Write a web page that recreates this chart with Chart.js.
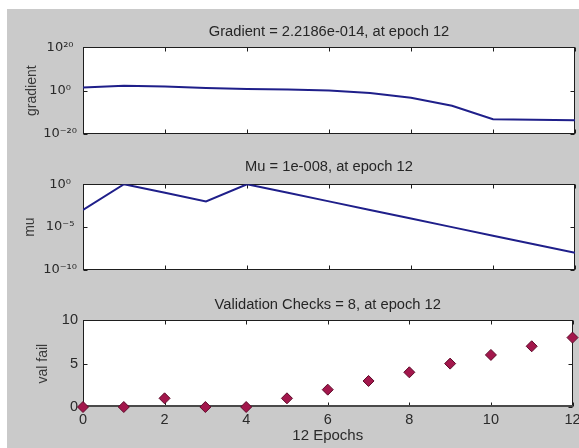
<!DOCTYPE html>
<html><head><meta charset="utf-8">
<script src="https://cdn.jsdelivr.net/npm/chart.js@4/dist/chart.umd.min.js"></script>
<style>
html,body{margin:0;padding:0;background:#fff;width:579px;height:448px;overflow:hidden;}
#bg{position:absolute;left:7px;top:9px;width:572px;height:439px;background:#cacaca;}
canvas{position:absolute;left:0;}
</style></head><body>
<div id="bg"></div>
<canvas id="c1" width="579" height="130" style="top:9px;width:579px;height:130px"></canvas>
<canvas id="c2" width="579" height="130" style="top:145px;width:579px;height:130px"></canvas>
<canvas id="c3" width="579" height="163" style="top:285px;width:579px;height:163px"></canvas>
<script>
// ---- data ----
const epochs = [0, 1, 2, 3, 4, 5, 6, 7, 8, 9, 10, 11, 12];
const gradient = [25, 160, 80, 16, 6, 3, 1, 0.08, 5e-4, 1e-7, 6e-14, 4e-14, 2.2186e-14];
const mu = [1e-3, 1, 0.1, 0.01, 1, 0.1, 0.01, 1e-3, 1e-4, 1e-5, 1e-6, 1e-7, 1e-8];
const valFail = [0, 0, 1, 0, 0, 1, 2, 3, 4, 5, 6, 7, 8];
const epochTicks = [0, 2, 4, 6, 8, 10, 12];
const gradTicks = [1e-20, 1, 1e20];
const gradTickLabels = ['10\u207B\u00B2\u2070', '10\u2070', '10\u00B2\u2070'];
const muTicks = [1e-10, 1e-5, 1];
const muTickLabels = ['10\u207B\u00B9\u2070', '10\u207B\u2075', '10\u2070'];
const valTicks = [0, 5, 10];
const valTickLabels = ['0', '5', '10'];
const plotTitles = ['Gradient = 2.2186e-014, at epoch 12', 'Mu = 1e-008, at epoch 12', 'Validation Checks = 8, at epoch 12'];
const yTitles = ['gradient', 'mu', 'val fail'];
const xTitle = '12 Epochs';

const FONT = "'Liberation Sans', Arial, Helvetica, sans-serif";
Chart.defaults.font.family = FONT;
Chart.defaults.font.size = 14;
Chart.defaults.color = '#2a2a2a';

const matlabAxes = {
  id: 'matlabAxes',
  beforeDraw(chart) {
    const {ctx, chartArea: a} = chart;
    ctx.save();
    ctx.fillStyle = '#ffffff';
    ctx.fillRect(a.left, a.top, a.right - a.left, a.bottom - a.top);
    ctx.restore();
  },
  beforeDatasetsDraw(chart, args, opts) {
    const {ctx, chartArea: a, scales} = chart;
    const x = scales.x, y = scales.y;
    const L = 4;
    const l = Math.round(a.left) + 0.5, r = Math.round(a.right) - 0.5;
    const t = Math.round(a.top) + 0.5, b = Math.round(a.bottom) - 0.5;
    ctx.save();
    ctx.strokeStyle = '#1e1e1e';
    ctx.lineWidth = 1;
    ctx.strokeRect(l, t, r - l, b - t);
    ctx.beginPath();
    x.ticks.forEach(tk => {
      const px = Math.round(x.getPixelForValue(tk.value)) + 0.5;
      ctx.moveTo(px, t); ctx.lineTo(px, t + L);
      ctx.moveTo(px, b); ctx.lineTo(px, b - L);
    });
    y.ticks.forEach(tk => {
      const py = Math.round(y.getPixelForValue(tk.value)) + 0.5;
      ctx.moveTo(l, py); ctx.lineTo(l + L, py);
      ctx.moveTo(r, py); ctx.lineTo(r - L, py);
    });
    ctx.stroke();
    if (opts && opts.thickBottom) {
      ctx.strokeStyle = '#4a4a4a';
      ctx.lineWidth = 2;
      ctx.beginPath();
      ctx.moveTo(l - 0.5, Math.round(a.bottom) - 1);
      ctx.lineTo(r + 0.5, Math.round(a.bottom) - 1);
      ctx.stroke();
    }
    ctx.restore();
  }
};

function makeChart(id, cfg) {
  const pts = epochs.map((e, i) => ({x: e, y: cfg.values[i]}));
  const ds = cfg.scatter ? {
    data: pts, showLine: false, pointStyle: 'rectRot', pointRadius: 5.5,
    pointBackgroundColor: '#a3174c', pointBorderColor: '#5e0b2a', pointBorderWidth: 1, clip: false
  } : {
    data: pts, borderColor: '#1f1f8a', borderWidth: 2, pointRadius: 0, tension: 0, fill: false
  };
  return new Chart(document.getElementById(id), {
    type: 'line',
    data: {datasets: [ds]},
    plugins: [matlabAxes],
    options: {
      responsive: false, maintainAspectRatio: false, animation: false, devicePixelRatio: 1,
      layout: {padding: {left: 0, right: 4, top: 0, bottom: cfg.padBottom}},
      plugins: {
        legend: {display: false}, tooltip: {enabled: false},
        title: {display: true, text: cfg.title, fullSize: false, color: '#262626',
          font: {size: 14.7, weight: 'normal', lineHeight: 1.2},
          padding: {top: cfg.titleTop, bottom: cfg.titleBottom}},
        matlabAxes: {thickBottom: !!cfg.scatter}
      },
      scales: {
        x: {
          type: 'linear', min: 0, max: 12,
          grid: {display: false, drawTicks: false}, border: {display: false},
          ticks: {display: !!cfg.xLabels, padding: 4, maxRotation: 0, autoSkip: false,
            font: {size: 14.5}, callback: v => String(v)},
          title: {display: !!cfg.xLabels, text: xTitle, font: {size: 15}, padding: {top: 0, bottom: 3.2}},
          afterBuildTicks: s => { s.ticks = epochTicks.map(v => ({value: v})); },
          afterFit: s => { s.height = cfg.xHeight; s.paddingLeft = 0; s.paddingRight = 0; }
        },
        y: {
          type: cfg.log ? 'logarithmic' : 'linear', min: cfg.ticks[0], max: cfg.ticks[cfg.ticks.length - 1],
          grid: {display: false, drawTicks: false}, border: {display: false},
          ticks: {padding: cfg.tickPad, crossAlign: cfg.log ? 'center' : 'near', autoSkip: false,
            font: cfg.log ? {family: "'DejaVu Sans', sans-serif", size: 13} : {size: 14.5},
            callback: (v, i) => cfg.tickLabels[i]},
          title: {display: true, text: cfg.yTitle, color: '#3a3a3a', font: {size: 14}, padding: {top: cfg.yTitleX - 8.4, bottom: 0}},
          afterBuildTicks: s => { s.ticks = cfg.ticks.map(v => ({value: v})); },
          afterFit: s => { s.width = 83; s.paddingTop = 0; s.paddingBottom = 0; }
        }
      }
    }
  });
}

makeChart('c1', {values: gradient, log: true, ticks: gradTicks, tickLabels: gradTickLabels,
  title: plotTitles[0], yTitle: yTitles[0], yTitleX: 32, titleTop: 14, titleBottom: 6.6,
  padBottom: 5, xHeight: 0, tickPad: 6});
makeChart('c2', {values: mu, log: true, ticks: muTicks, tickLabels: muTickLabels,
  title: plotTitles[1], yTitle: yTitles[1], yTitleX: 30, titleTop: 13.6, titleBottom: 8.0,
  padBottom: 5, xHeight: 0, tickPad: 6});
makeChart('c3', {values: valFail, log: false, ticks: valTicks, tickLabels: valTickLabels,
  title: plotTitles[2], yTitle: yTitles[2], yTitleX: 43, titleTop: 11.6, titleBottom: 6.0,
  padBottom: 0, xHeight: 41, tickPad: 5, scatter: true, xLabels: true});
</script>
</body></html>
